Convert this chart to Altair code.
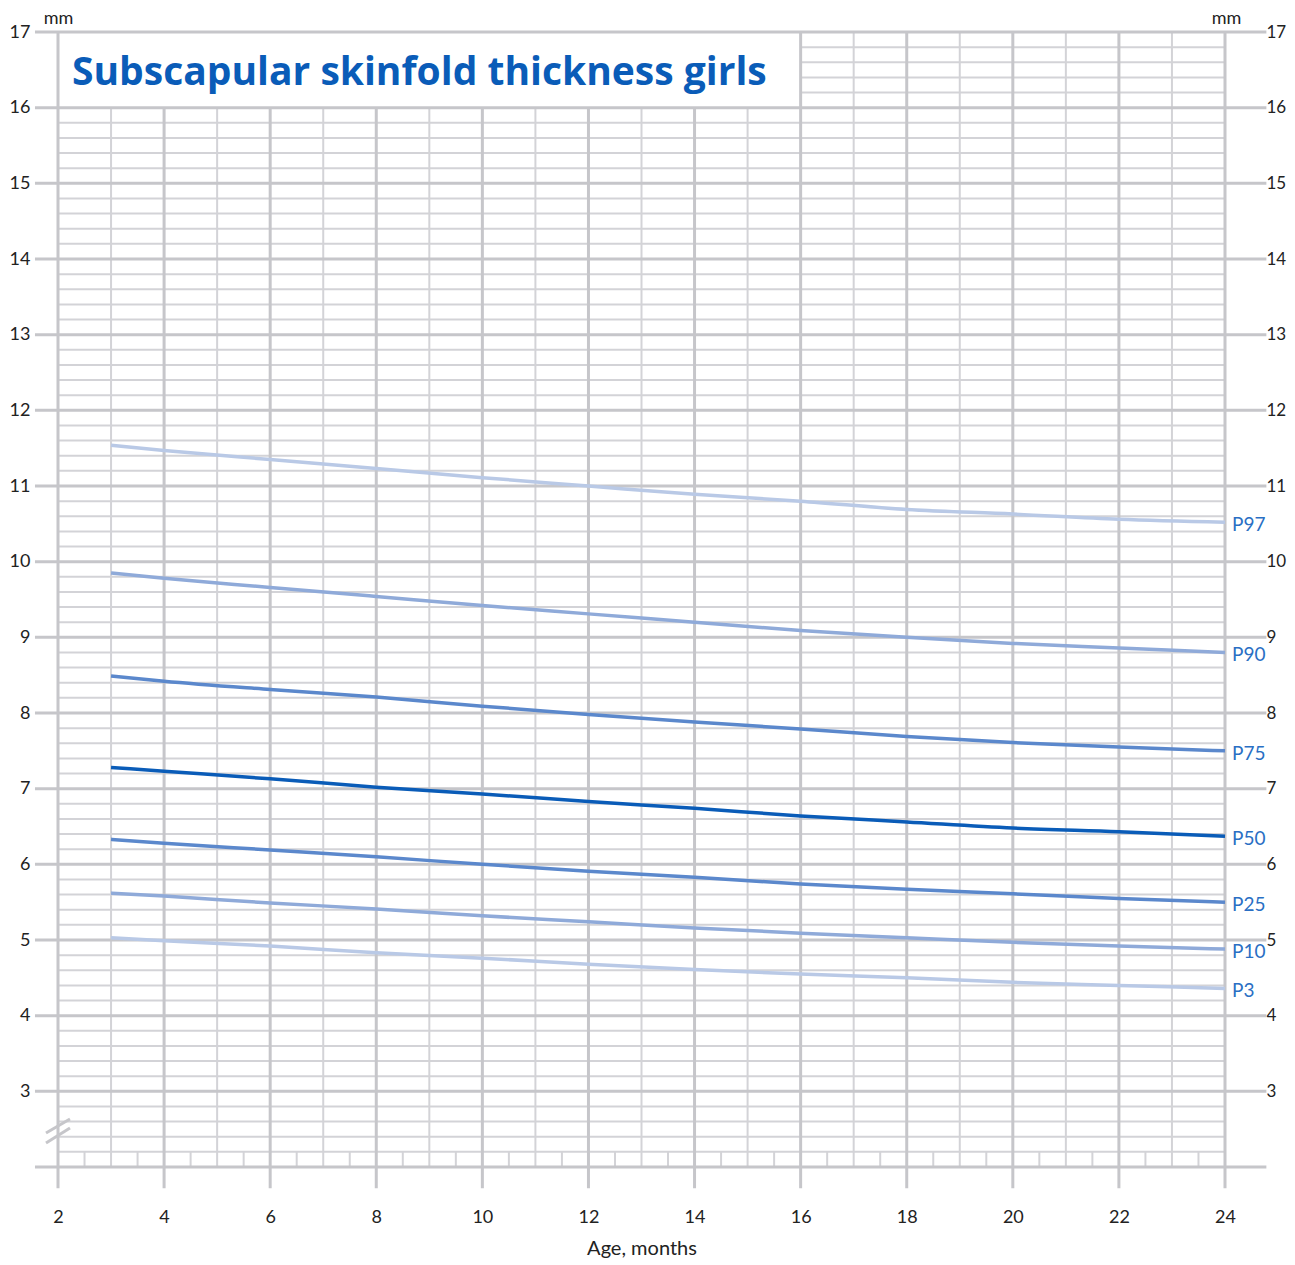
import altair as alt
import pandas as pd

# ---- data ----
ages = [3, 4, 6, 8, 10, 12, 14, 16, 18, 20, 22, 24]
p97 = [11.54, 11.47, 11.35, 11.23, 11.11, 11.00, 10.89, 10.80, 10.69, 10.63, 10.56, 10.52]
p90 = [9.85, 9.78, 9.66, 9.54, 9.42, 9.31, 9.20, 9.09, 9.00, 8.92, 8.86, 8.80]
p75 = [8.49, 8.42, 8.31, 8.21, 8.09, 7.98, 7.88, 7.79, 7.69, 7.61, 7.55, 7.50]
p50 = [7.28, 7.23, 7.13, 7.02, 6.93, 6.83, 6.74, 6.64, 6.56, 6.48, 6.43, 6.37]
p25 = [6.33, 6.28, 6.19, 6.10, 6.00, 5.91, 5.83, 5.74, 5.67, 5.61, 5.55, 5.50]
p10 = [5.62, 5.58, 5.49, 5.41, 5.32, 5.24, 5.16, 5.09, 5.03, 4.97, 4.92, 4.88]
p3 = [5.03, 4.99, 4.92, 4.83, 4.76, 4.68, 4.61, 4.55, 4.50, 4.44, 4.40, 4.36]

series_names = ["P97", "P90", "P75", "P50", "P25", "P10", "P3"]
series_values = [p97, p90, p75, p50, p25, p10, p3]
series_colors = ["#b9c9e6", "#8faad9", "#5b88cc", "#0a5cb8", "#5b88cc", "#8faad9", "#b9c9e6"]

x_ticks = list(range(2, 25, 2))
y_ticks = list(range(3, 18))

title_text = "Subscapular skinfold thickness girls"

# ---- tables ----
rows = []
for name, vals in zip(series_names, series_values):
    for a, v in zip(ages, vals):
        rows.append({"age": a, "mm": v, "series": name})
curves = pd.DataFrame(rows)
labels = curves[curves["age"] == ages[-1]].copy()

minor_h = []
for i in range(11, 85):
    v = i / 5
    if abs(v - round(v)) < 1e-9:
        continue
    minor_h.append({"y": v, "x1": 16 if v > 16 else 2, "x2": 24})
minor_h = pd.DataFrame(minor_h)

major_h = pd.DataFrame({"y": list(range(2, 18)), "x1": 1.566, "x2": 24.78})

major_v = pd.DataFrame([{"x": a, "y1": 1.72, "y2": 16 if 4 <= a <= 14 else 17} for a in x_ticks])
minor_v = pd.DataFrame([{"x": a, "y1": 2, "y2": 16 if a <= 15 else 17} for a in range(3, 24, 2)])
half_v = pd.DataFrame([{"x": a + 0.5, "y1": 2, "y2": 2.2} for a in range(2, 24)])

brk = pd.DataFrame({"x1": [1.774, 1.774], "x2": [2.226, 2.226],
                    "y1": [2.449, 2.317], "y2": [2.634, 2.515]})

FONT = "Lato"
GRID_MINOR = "#d3d3d7"
GRID_MAJOR = "#c6c6ca"

xs = alt.Scale(domain=[2, 24], nice=False, zero=False)
ys = alt.Scale(domain=[2, 17], nice=False, zero=False)

x_axis = alt.Axis(values=x_ticks, title="Age, months", grid=False, domain=False,
                  ticks=False, labelPadding=41, labelFontSize=18, labelFont=FONT,
                  labelFlush=False, labelOverlap=False,
                  labelColor="#222", titleFont=FONT, titleFontSize=20,
                  titleFontWeight="normal", titleColor="#222", titlePadding=12)
y_axis_left = alt.Axis(values=y_ticks, grid=False, domain=False, ticks=False,
                       labelPadding=28, labelFontSize=18, labelFont=FONT,
                       labelFlush=False, labelOverlap=False,
                       labelColor="#222", title="mm", titleAngle=0, titleX=0,
                       titleY=-14, titleAlign="center", titleBaseline="middle",
                       titleFont=FONT, titleFontSize=18, titleFontWeight="normal",
                       titleColor="#222")
y_axis_right = alt.Axis(values=y_ticks, grid=False, domain=False, ticks=False,
                        orient="right", labelPadding=41, labelFontSize=17,
                        labelFlush=False, labelOverlap=False,
                        labelFont=FONT, labelColor="#222", title="mm", titleAngle=0,
                        titleX=1, titleY=-14, titleAlign="center",
                        titleBaseline="middle", titleFont=FONT, titleFontSize=18,
                        titleFontWeight="normal", titleColor="#222")


def X(field):
    return alt.X(field, scale=xs, axis=None)


def Y(field):
    return alt.Y(field, scale=ys, axis=None)


l_minor_h = alt.Chart(minor_h).mark_rule(color=GRID_MINOR, strokeWidth=2).encode(
    x=alt.X("x1:Q", scale=xs, axis=x_axis), x2="x2:Q",
    y=alt.Y("y:Q", scale=ys, axis=y_axis_left))
l_right_axis = alt.Chart(minor_h).mark_rule(opacity=0).encode(
    x=X("x1:Q"), y=alt.Y("y:Q", scale=ys, axis=y_axis_right))
l_minor_v = alt.Chart(minor_v).mark_rule(color=GRID_MINOR, strokeWidth=2).encode(
    x=X("x:Q"), y=Y("y1:Q"), y2="y2:Q")
l_half_v = alt.Chart(half_v).mark_rule(color=GRID_MINOR, strokeWidth=2).encode(
    x=X("x:Q"), y=Y("y1:Q"), y2="y2:Q")
l_major_v = alt.Chart(major_v).mark_rule(color=GRID_MAJOR, strokeWidth=3).encode(
    x=X("x:Q"), y=Y("y1:Q"), y2="y2:Q")
l_major_h = alt.Chart(major_h).mark_rule(color=GRID_MAJOR, strokeWidth=3).encode(
    x=X("x1:Q"), x2="x2:Q", y=Y("y:Q"))
l_break = alt.Chart(brk).mark_rule(color=GRID_MAJOR, strokeWidth=3).encode(
    x=X("x1:Q"), x2="x2:Q", y=Y("y1:Q"), y2="y2:Q")

l_curves = alt.Chart(curves).mark_line(strokeWidth=3.5, interpolate="monotone").encode(
    x=X("age:Q"), y=Y("mm:Q"),
    color=alt.Color("series:N", scale=alt.Scale(domain=series_names, range=series_colors),
                    legend=None),
    detail="series:N")
l_labels = alt.Chart(labels).mark_text(align="left", baseline="middle", dx=7, dy=3,
                                       fontSize=19, font=FONT, color="#2a6fc4").encode(
    x=X("age:Q"), y=Y("mm:Q"), text="series:N")

l_title = alt.Chart(pd.DataFrame({"t": [title_text]})).mark_text(
    align="left", baseline="alphabetic", fontSize=39, fontWeight="bold", font="Open Sans",
    color="#0a5cb8").encode(x=alt.value(14), y=alt.value(53), text="t:N")

chart = alt.layer(l_minor_h, l_right_axis, l_minor_v, l_half_v, l_major_v, l_major_h,
                  l_break, l_curves, l_labels, l_title).resolve_axis(
    x="independent", y="independent").properties(
    width=1167, height=1135,
    autosize=alt.AutoSizeParams(type="none"),
    padding={"left": 50, "top": 24, "right": 62, "bottom": 98},
).configure_view(stroke=None).configure(background="white")

chart.save("out.html", embed_options={"renderer": "svg", "actions": False})
